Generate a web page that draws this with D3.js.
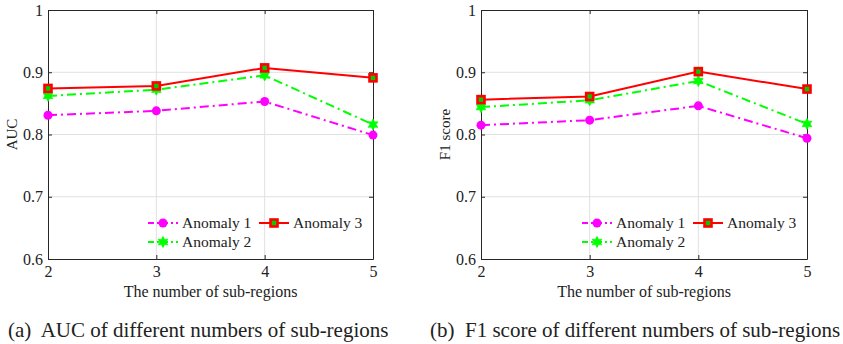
<!DOCTYPE html>
<html lang="en">
<head>
  <meta charset="UTF-8">
  <title>Anomaly sub-regions</title>
  <script src="https://cdn.jsdelivr.net/npm/d3@7"></script>
  <style>
    body { margin: 0; background: #fff; }
    svg text { font-family: "Liberation Serif", "DejaVu Serif", serif; fill: #222; }
  </style>
</head>
<body>
<script>
  const subRegions = [2, 3, 4, 5];
  const yTicks = [0.6, 0.7, 0.8, 0.9, 1];
  const seriesNames = ["Anomaly 1", "Anomaly 2", "Anomaly 3"];

  const aucA1 = [0.831, 0.838, 0.853, 0.799];
  const aucA2 = [0.862, 0.872, 0.895, 0.816];
  const aucA3 = [0.874, 0.878, 0.907, 0.891];

  const f1A1 = [0.815, 0.823, 0.846, 0.794];
  const f1A2 = [0.844, 0.855, 0.886, 0.817];
  const f1A3 = [0.856, 0.861, 0.901, 0.873];

  const w = 843, h = 344;
  const svg = d3.select("body").append("svg").attr("width", w).attr("height", h);

  const styles = [
    { color: "#ff00ff", dash: "9,4,2,4", marker: "circle" },
    { color: "#00ff00", dash: "9,4,2,4", marker: "star" },
    { color: "#ff0000", dash: null, marker: "square" }
  ];

  // six-pointed star like MATLAB's hexagram
  function hexagram(r) {
    const pts = [];
    for (let k = 0; k < 12; k++) {
      const a = -Math.PI / 2 + k * Math.PI / 6;
      const rr = k % 2 === 0 ? r : r * 0.55;
      pts.push([rr * Math.cos(a), rr * Math.sin(a)]);
    }
    return "M" + pts.map(p => p.join(",")).join("L") + "Z";
  }

  function drawMarker(g, type, x, y) {
    if (type === "circle") {
      g.append("circle").attr("cx", x).attr("cy", y).attr("r", 4.5).attr("fill", "#ff00ff");
    } else if (type === "star") {
      g.append("path")
        .attr("d", hexagram(5.5))
        .attr("transform", `translate(${x},${y})`)
        .attr("fill", "#00ff00").attr("stroke", "#00ff00").attr("stroke-width", 0.8);
    } else {
      g.append("rect").attr("x", x - 3.5).attr("y", y - 3.5).attr("width", 7).attr("height", 7)
        .attr("fill", "#00cc00").attr("stroke", "#ff0000").attr("stroke-width", 2.6);
    }
  }

  function panel(left, right, yLabel, labelX, data, caption, captionX) {
    const top = 10, bottom = 259;
    const x = d3.scaleLinear().domain([2, 5]).range([left, right]);
    const y = d3.scaleLinear().domain([0.6, 1]).range([bottom, top]);
    const g = svg.append("g");

    // grid
    g.selectAll(".gx").data(subRegions.slice(1, -1)).enter().append("line")
      .attr("x1", d => x(d)).attr("x2", d => x(d)).attr("y1", top).attr("y2", bottom)
      .attr("stroke", "#e0e0e0").attr("stroke-width", 1);
    g.selectAll(".gy").data(yTicks.slice(1, -1)).enter().append("line")
      .attr("x1", left).attr("x2", right).attr("y1", d => y(d)).attr("y2", d => y(d))
      .attr("stroke", "#e0e0e0").attr("stroke-width", 1);

    // axes with inward ticks
    const xAxis = g.append("g").attr("transform", `translate(0,${bottom})`)
      .call(d3.axisBottom(x).tickValues(subRegions).tickFormat(d3.format("d"))
        .tickSizeInner(-4).tickSizeOuter(0).tickPadding(7));
    const yAxis = g.append("g").attr("transform", `translate(${left},0)`)
      .call(d3.axisLeft(y).tickValues(yTicks).tickFormat(d3.format("")).tickSizeInner(-4).tickSizeOuter(0).tickPadding(5));
    const xTop = g.append("g").attr("transform", `translate(0,${top})`)
      .call(d3.axisTop(x).tickValues(subRegions).tickSizeInner(-4).tickSizeOuter(0).tickFormat(""));
    const yRight = g.append("g").attr("transform", `translate(${right},0)`)
      .call(d3.axisRight(y).tickValues(yTicks).tickSizeInner(-4).tickSizeOuter(0).tickFormat(""));
    [xAxis, yAxis, xTop, yRight].forEach(a => {
      a.selectAll("path, line").attr("stroke", "#262626").attr("stroke-width", 1);
      a.selectAll("text").attr("font-size", 16).attr("fill", "#262626")
        .attr("font-family", "Liberation Serif");
    });

    // lines
    data.forEach((vals, i) => {
      const s = styles[i];
      const pts = subRegions.map((d, j) => [x(d), y(vals[j])]);
      g.append("path").attr("d", d3.line()(pts))
        .attr("fill", "none").attr("stroke", s.color).attr("stroke-width", 2)
        .attr("stroke-dasharray", s.dash);
      pts.forEach(p => drawMarker(g, s.marker, p[0], p[1]));
    });

    // legend
    const lx = right - 225, ly = 223;
    const legPos = [[lx, ly], [lx, ly + 19], [lx + 111, ly]];
    seriesNames.forEach((name, i) => {
      const s = styles[i];
      const [px, py] = legPos[i];
      g.append("line").attr("x1", px).attr("x2", px + 30).attr("y1", py).attr("y2", py)
        .attr("stroke", s.color).attr("stroke-width", 2)
        .attr("stroke-dasharray", s.dash ? "6,3,2,3" : null);
      drawMarker(g, s.marker, px + 15, py);
      g.append("text").attr("x", px + 34).attr("y", py + 5)
        .attr("font-size", 15.5).text(name);
    });

    // labels
    g.append("text").attr("transform", `translate(${labelX},${(top + bottom) / 2}) rotate(-90)`)
      .attr("text-anchor", "middle").attr("font-size", 15).text(yLabel);
    g.append("text").attr("x", (left + right) / 2).attr("y", 297)
      .attr("text-anchor", "middle").attr("font-size", 16).text("The number of sub-regions");
    g.append("text").attr("x", captionX).attr("y", 337)
      .attr("font-size", 21).attr("xml:space", "preserve").text(caption);
  }

  panel(48, 373, "AUC", 17, [aucA1, aucA2, aucA3], "(a)  AUC of different numbers of sub-regions", 8);
  panel(481, 807, "F1 score", 450, [f1A1, f1A2, f1A3], "(b)  F1 score of different numbers of sub-regions", 430);
</script>
</body>
</html>
